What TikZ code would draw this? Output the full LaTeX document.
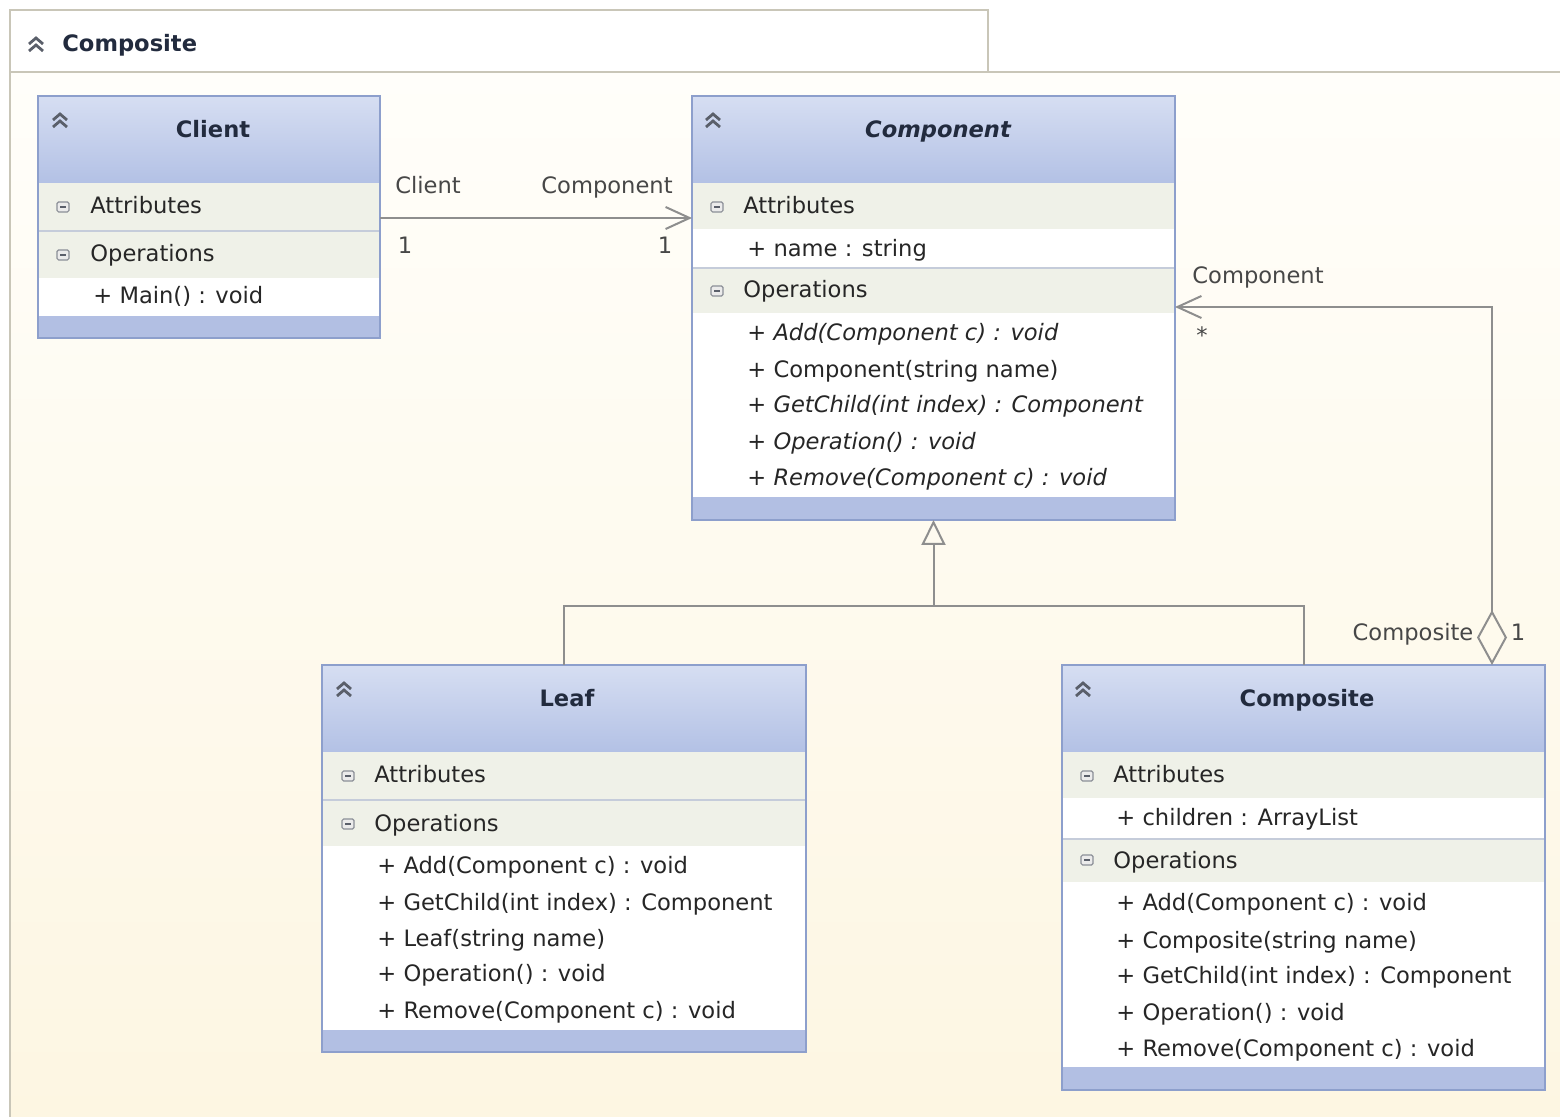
\documentclass[tikz,border=0pt]{standalone}
\usepackage{fontspec}
\setmainfont{DejaVu Sans}
\usetikzlibrary{arrows.meta}
\definecolor{hdtop}{HTML}{D6DEF2}
\definecolor{hdbot}{HTML}{B3C1E5}
\definecolor{bordc}{HTML}{8D9FCC}
\definecolor{footc}{HTML}{B2BFE3}
\definecolor{rowc}{HTML}{EFF1E8}
\definecolor{sepc}{HTML}{C5CCDA}
\definecolor{txtc}{HTML}{262626}
\definecolor{ttlc}{HTML}{222B3E}
\definecolor{lnc}{HTML}{8E8E8E}
\definecolor{frc}{HTML}{C9C6B8}
\definecolor{bgtop}{HTML}{FFFEFA}
\definecolor{bgbot}{HTML}{FDF6E2}
\definecolor{icc}{HTML}{5A5F6A}
\newcommand\fsz{\fontsize{11.3}{13}\selectfont}
\tikzset{
  txt/.style={anchor=base west, inner sep=0, text=txtc, font=\fsz},
  itxt/.style={txt, font=\fsz\itshape},
  ttl/.style={anchor=base, inner sep=0, text=ttlc, font=\fsz\bfseries},
  lbl/.style={anchor=base, inner sep=0, text=txtc!85, font=\fsz},
  outline/.style={draw=bordc, line width=1pt, anchor=north west, inner sep=0, outer sep=0, fill=none},
  conn/.style={draw=lnc, line width=1pt},
  chev/.style={draw=icc, line width=1.4pt},
  mbox/.style={draw=icc!70, fill=black!8, line width=0.6pt, rounded corners=0.8pt},
}
\newcommand\chevs[2]{%
  \draw[chev] (#1-7,#2) -- (#1,#2-6) -- (#1+7,#2);
  \draw[chev] (#1-7,#2+7) -- (#1,#2+1) -- (#1+7,#2+7);}
\newcommand\minbox[2]{%
  \draw[mbox] (#1-6,#2-5) rectangle (#1+6,#2+5);
  \draw[icc, line width=0.7pt] (#1-3,#2) -- (#1+3,#2);}
\begin{document}
\begin{tikzpicture}[x=0.5pt,y=-0.5pt]
\useasboundingbox (0,0) rectangle (1560,1117);
\fill[white] (0,0) rectangle (1560,1117);
% frame
\shade[top color=bgtop, bottom color=bgbot] (10,72) rectangle (1560,1117);
\draw[frc, line width=1pt] (10,1117) -- (10,10) -- (988,10) -- (988,72);
\draw[frc, line width=1pt] (10,72) -- (1560,72);
\chevs{36}{44}
\node[txt, font=\fsz\bfseries, text=ttlc] (frametitle) at (62,52) {Composite};

% ---------- Client ----------
\shade[top color=hdtop, bottom color=hdbot] (38,96) rectangle (380,183);
\fill[rowc] (38,183) rectangle (380,230);
\fill[rowc] (38,232) rectangle (380,278);
\fill[white] (38,278) rectangle (380,316);
\fill[footc] (38,316) rectangle (380,338);
\draw[sepc, line width=1pt] (38,231) -- (380,231);
\chevs{60}{120}
\minbox{63}{207}
\minbox{63}{255}
\node[ttl] (clientT) at (213,138) {Client};
\node[txt] (clientA) at (90,214) {Attributes};
\node[txt] (clientO) at (90,262) {Operations};
\node[txt] (clientO1) at (93,304) {+ Main() : void};
\node[outline, minimum width=171pt, minimum height=121pt] (client) at (38,96) {};

% ---------- Component ----------
\shade[top color=hdtop, bottom color=hdbot] (692,96) rectangle (1175,183);
\fill[rowc] (692,183) rectangle (1175,229);
\fill[white] (692,229) rectangle (1175,267);
\fill[rowc] (692,269) rectangle (1175,313);
\fill[white] (692,313) rectangle (1175,497);
\fill[footc] (692,497) rectangle (1175,520);
\draw[sepc, line width=1pt] (692,268) -- (1175,268);
\chevs{713}{120}
\minbox{717}{207}
\minbox{717}{291}
\node[ttl, font=\fsz\bfseries\itshape] (compT) at (938,138) {Component};
\node[txt] (compA) at (743,214) {Attributes};
\node[txt] (compA1) at (747,257) {+ name : string};
\node[txt] (compO) at (743,298) {Operations};
\node[itxt] (compO1) at (747,341) {+ Add(Component c) : void};
\node[txt] (compO2) at (747,378) {+ Component(string name)};
\node[itxt] (compO3) at (747,413) {+ GetChild(int index) : Component};
\node[itxt] (compO4) at (747,450) {+ Operation() : void};
\node[itxt] (compO5) at (747,486) {+ Remove(Component c) : void};
\node[outline, minimum width=241.5pt, minimum height=212pt] (comp) at (692,96) {};

% ---------- Leaf ----------
\shade[top color=hdtop, bottom color=hdbot] (322,665) rectangle (806,752);
\fill[rowc] (322,752) rectangle (806,799);
\fill[rowc] (322,801) rectangle (806,846);
\fill[white] (322,846) rectangle (806,1030);
\fill[footc] (322,1030) rectangle (806,1052);
\draw[sepc, line width=1pt] (322,800) -- (806,800);
\chevs{344}{689}
\minbox{348}{776}
\minbox{348}{824}
\node[ttl] (leafT) at (567,707) {Leaf};
\node[txt] (leafA) at (374,783) {Attributes};
\node[txt] (leafO) at (374,831) {Operations};
\node[txt] (leafO1) at (377,873) {+ Add(Component c) : void};
\node[txt] (leafO2) at (377,910) {+ GetChild(int index) : Component};
\node[txt] (leafO3) at (377,946) {+ Leaf(string name)};
\node[txt] (leafO4) at (377,981) {+ Operation() : void};
\node[txt] (leafO5) at (377,1018) {+ Remove(Component c) : void};
\node[outline, minimum width=242pt, minimum height=193.5pt] (leaf) at (322,665) {};

% ---------- Composite ----------
\shade[top color=hdtop, bottom color=hdbot] (1062,665) rectangle (1545,752);
\fill[rowc] (1062,752) rectangle (1545,798);
\fill[white] (1062,798) rectangle (1545,838);
\fill[rowc] (1062,840) rectangle (1545,882);
\fill[white] (1062,882) rectangle (1545,1067);
\fill[footc] (1062,1067) rectangle (1545,1090);
\draw[sepc, line width=1pt] (1062,839) -- (1545,839);
\chevs{1083}{689}
\minbox{1087}{776}
\minbox{1087}{860}
\node[ttl] (compoT) at (1307,707) {Composite};
\node[txt] (compoA) at (1113,783) {Attributes};
\node[txt] (compoA1) at (1116,826) {+ children : ArrayList};
\node[txt] (compoO) at (1113,868) {Operations};
\node[txt] (compoO1) at (1116,910) {+ Add(Component c) : void};
\node[txt] (compoO2) at (1116,948) {+ Composite(string name)};
\node[txt] (compoO3) at (1116,983) {+ GetChild(int index) : Component};
\node[txt] (compoO4) at (1116,1020) {+ Operation() : void};
\node[txt] (compoO5) at (1116,1056) {+ Remove(Component c) : void};
\node[outline, minimum width=241.5pt, minimum height=212.5pt] (compo) at (1062,665) {};

% ---------- connectors ----------
% association Client -> Component
\draw[conn, -{Straight Barb[length=12pt,width=11pt,line width=1pt]}]
  ([yshift=-61pt]client.north east) -- ([yshift=-61pt]comp.north west);
\node[lbl] (l1) at (428,194) {Client};
\node[lbl] (l2) at (607,194) {Component};
\node[lbl] (l3) at (405,254) {1};
\node[lbl] (l4) at (665,254) {1};

% generalization
\coordinate (gj) at ([yshift=-43pt]comp.south);
\draw[conn] (leaf.north) |- (gj) -| (compo.north);
\draw[conn, -{Triangle[open, length=12.5pt, width=12pt, line width=1pt]}] (gj) -- (comp.south);

% aggregation
\draw[conn, {Diamond[open, length=27.5pt, width=15pt, line width=1pt]}-{Straight Barb[length=12pt,width=11pt,line width=1pt]}]
  ([xshift=-26.5pt]compo.north east) |- ([yshift=-105.5pt]comp.north east);
\node[lbl] (l5) at (1258,284) {Component};
\node[lbl] (l6) at (1202,344) {*};
\node[lbl] (l7) at (1413,641) {Composite};
\node[lbl] (l8) at (1518,641) {1};
\end{tikzpicture}
\end{document}
